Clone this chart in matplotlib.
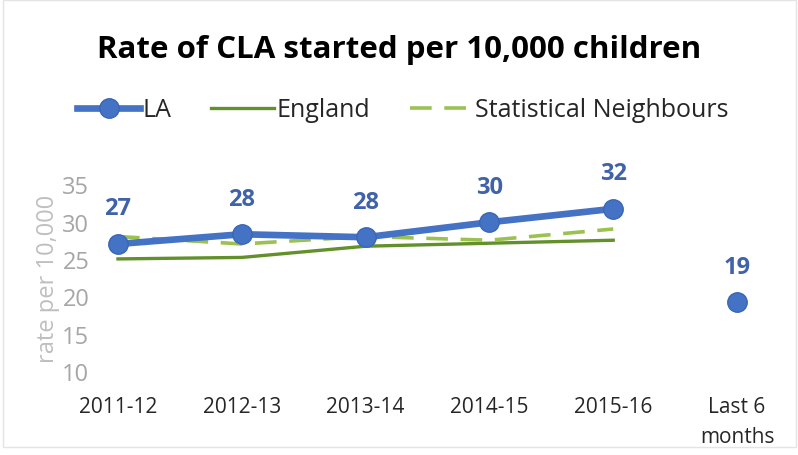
import matplotlib.pyplot as plt

plt.rcParams['font.family'] = ['Open Sans', 'DejaVu Sans']

# categories and series
periods = ['2011-12', '2012-13', '2013-14', '2014-15', '2015-16', 'Last 6\nmonths']
la = [27.0, 28.3, 27.9, 29.9, 31.7, 19.2]
england = [25.0, 25.2, 26.7, 27.1, 27.5]
stat_neighbours = [28.0, 27.0, 28.0, 27.5, 29.0]

blue = '#4472C4'
label_blue = '#3F62A8'
dark_green = '#62902B'
light_green = '#9BC24F'

fig = plt.figure(figsize=(7.98, 4.56), dpi=100)
ax = fig.add_axes([0.119, 0.184, 0.871, 0.41])

x = list(range(len(periods)))

# England and neighbours lines drawn under the LA line
ax.plot(x[:5], england, color=dark_green, lw=2.4, label='England', zorder=2)
ax.plot(x[:5], stat_neighbours, color=light_green, lw=2.6, ls=(0, (6, 3.5)),
        label='Statistical Neighbours', zorder=2)

# LA: yearly line plus the last 6 months as a single point
ax.plot(x[:5], la[:5], color=blue, lw=4.8, marker='o', ms=14,
        mfc=blue, mec='#3A66B5', mew=1, label='LA', zorder=3)
ax.plot(x[5], la[5], color=blue, marker='o', ms=14, mec='#3A66B5', mew=1,
        ls='none', zorder=3)

for xi, v in zip(x, la):
    ax.annotate(f'{v:.0f}', (xi, v), xytext=(0, 17), textcoords='offset points',
                ha='center', va='bottom', fontsize=17, fontweight='bold',
                color=label_blue, clip_on=False)

ax.set_xlim(-0.186, 5.428)
ax.set_ylim(10, 35)
ax.set_yticks([10, 15, 20, 25, 30, 35])
ax.set_xticks(x)
ax.set_xticklabels(periods, fontsize=15, color='#262626', linespacing=1.55)
ax.tick_params(axis='y', labelsize=17, colors='#A6A6A6', length=0, pad=4)
ax.tick_params(axis='x', length=0, pad=18)
for sp in ax.spines.values():
    sp.set_visible(False)
ax.set_ylabel('rate per 10,000', fontsize=17, color='#BFBFBF', labelpad=2)

fig.text(0.5, 0.89, 'Rate of CLA started per 10,000 children', ha='center',
         va='center', fontsize=22.5, fontweight='bold', color='#000000')

handles, labels = ax.get_legend_handles_labels()
order = [2, 0, 1]
leg = fig.legend([handles[i] for i in order], [labels[i] for i in order],
                 loc='center', bbox_to_anchor=(0.505, 0.757), ncol=3, frameon=False,
                 fontsize=18, handlelength=2.5, handletextpad=0.1,
                 columnspacing=1.6)
for t in leg.get_texts():
    t.set_color('#262626')

# light frame around the chart area
fig.add_artist(plt.Rectangle((0.004, 0.018), 0.994, 0.98, transform=fig.transFigure,
                             fill=False, ec='#E4E4E4', lw=1))

fig.savefig('out.png', dpi=100)
